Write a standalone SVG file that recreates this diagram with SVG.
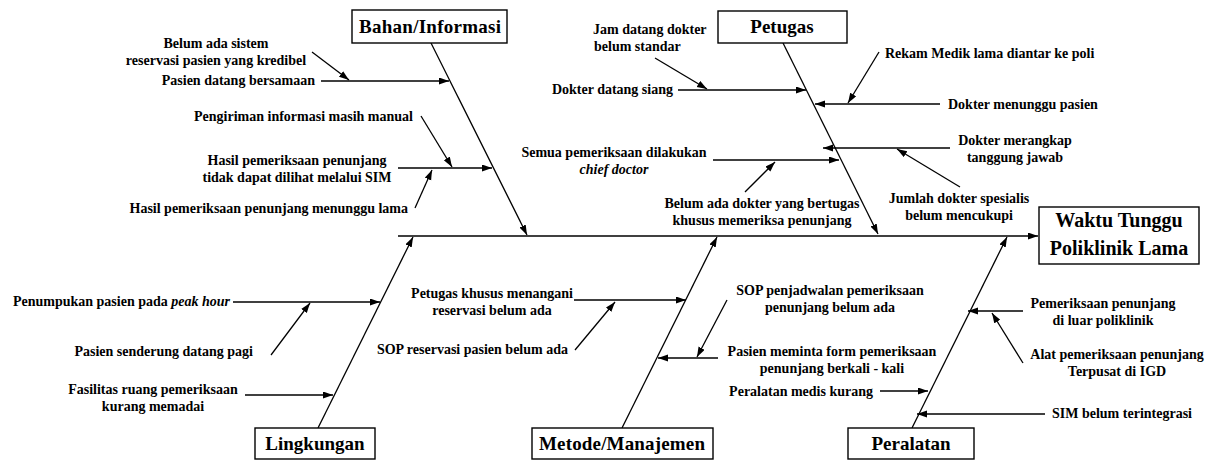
<svg xmlns="http://www.w3.org/2000/svg" width="1212" height="461" viewBox="0 0 1212 461">
  <style>
    .box { fill: #ffffff; stroke: #000000; stroke-width: 1.4; }
    .head { font-family: "Liberation Serif", "Times New Roman", serif; font-weight: bold; font-size: 19px; fill: #000; text-anchor: middle; }
    .effect { font-size: 20px; }
    .lbl { font-family: "Liberation Serif", "Times New Roman", serif; font-weight: bold; font-size: 14px; fill: #000; }
    .mid { text-anchor: middle; }
    .end { text-anchor: end; }
    .it { font-style: italic; }
    .ln { stroke: #000; stroke-width: 1.3; fill: none; marker-end: url(#arrow); }
  </style>
  <defs>
    <marker id="arrow" markerUnits="userSpaceOnUse" markerWidth="11" markerHeight="8" refX="10" refY="3.5" orient="auto">
      <path d="M0,0 L10,3.5 L0,7 z" fill="#000"/>
    </marker>
  </defs>
  <rect width="1212" height="461" fill="#ffffff"/>

  <!-- spine, bones and cause arrows -->
  <g id="connectors">
    <line class="ln" x1="398" y1="236" x2="1038" y2="236"/>
    <!-- category bones -->
    <line class="ln" x1="431" y1="43" x2="527" y2="235"/>
    <line class="ln" x1="783" y1="43" x2="878" y2="234"/>
    <line class="ln" x1="318" y1="428" x2="413" y2="237"/>
    <line class="ln" x1="622" y1="428" x2="717" y2="237"/>
    <line class="ln" x1="912" y1="428" x2="1007" y2="237"/>
    <!-- Bahan/Informasi -->
    <line class="ln" x1="321" y1="81" x2="449" y2="81"/>
    <line class="ln" x1="312" y1="52" x2="349" y2="80"/>
    <line class="ln" x1="398" y1="168" x2="492" y2="168"/>
    <line class="ln" x1="421" y1="116" x2="452" y2="167"/>
    <line class="ln" x1="415" y1="208" x2="432" y2="170"/>
    <!-- Petugas -->
    <line class="ln" x1="678" y1="90" x2="806" y2="90"/>
    <line class="ln" x1="655" y1="58" x2="707" y2="89"/>
    <line class="ln" x1="940" y1="104" x2="815" y2="104"/>
    <line class="ln" x1="879" y1="52" x2="848" y2="103"/>
    <line class="ln" x1="950" y1="148" x2="823" y2="148"/>
    <line class="ln" x1="960" y1="187" x2="897" y2="149"/>
    <line class="ln" x1="713" y1="160" x2="839" y2="160"/>
    <line class="ln" x1="745" y1="192" x2="775" y2="162"/>
    <!-- Lingkungan -->
    <line class="ln" x1="233" y1="302" x2="380" y2="302"/>
    <line class="ln" x1="271" y1="355" x2="310" y2="303"/>
    <line class="ln" x1="245" y1="395" x2="333" y2="395"/>
    <!-- Metode/Manajemen -->
    <line class="ln" x1="574" y1="300" x2="686" y2="300"/>
    <line class="ln" x1="575" y1="350" x2="615" y2="302"/>
    <line class="ln" x1="718" y1="358" x2="658" y2="358"/>
    <line class="ln" x1="727" y1="300" x2="697" y2="357"/>
    <!-- Peralatan -->
    <line class="ln" x1="1023" y1="311" x2="968" y2="311"/>
    <line class="ln" x1="1023" y1="363" x2="992" y2="313"/>
    <line class="ln" x1="880" y1="391" x2="928" y2="391"/>
    <line class="ln" x1="1045" y1="414" x2="917" y2="414"/>
  </g>

  <!-- effect -->
  <g id="effect">
    <rect class="box" x="1039" y="207" width="160" height="57"/>
    <text class="head effect" x="1119" y="227">Waktu Tunggu</text>
    <text class="head effect" x="1119" y="255">Poliklinik Lama</text>
  </g>

  <!-- category heads -->
  <g id="cat-bahan">
    <rect class="box" x="352" y="10" width="155" height="33"/>
    <text class="head" x="430" y="33" textLength="142">Bahan/Informasi</text>
  </g>
  <g id="cat-petugas">
    <rect class="box" x="718" y="11" width="129" height="32"/>
    <text class="head" x="782" y="33">Petugas</text>
  </g>
  <g id="cat-lingkungan">
    <rect class="box" x="255" y="428" width="120" height="31"/>
    <text class="head" x="315" y="450">Lingkungan</text>
  </g>
  <g id="cat-metode">
    <rect class="box" x="532" y="428" width="181" height="31"/>
    <text class="head" x="622" y="450" textLength="166">Metode/Manajemen</text>
  </g>
  <g id="cat-peralatan">
    <rect class="box" x="848" y="428" width="126" height="31"/>
    <text class="head" x="911" y="450">Peralatan</text>
  </g>

  <!-- causes: Bahan/Informasi -->
  <g id="cause-sistem-reservasi">
    <text class="lbl mid" x="216" y="48">Belum ada sistem</text>
    <text class="lbl mid" x="216" y="65">reservasi pasien yang kredibel</text>
  </g>
  <g id="cause-pasien-bersamaan">
    <text class="lbl end" x="315" y="85">Pasien datang bersamaan</text>
  </g>
  <g id="cause-pengiriman-manual">
    <text class="lbl end" x="413" y="121">Pengiriman informasi masih manual</text>
  </g>
  <g id="cause-hasil-sim">
    <text class="lbl mid" x="297" y="165">Hasil pemeriksaan penunjang</text>
    <text class="lbl mid" x="297" y="182">tidak dapat dilihat melalui SIM</text>
  </g>
  <g id="cause-hasil-lama">
    <text class="lbl end" x="408" y="213">Hasil pemeriksaan penunjang menunggu lama</text>
  </g>

  <!-- causes: Petugas -->
  <g id="cause-jam-datang">
    <text class="lbl" x="593" y="34">Jam datang dokter</text>
    <text class="lbl" x="594" y="51">belum standar</text>
  </g>
  <g id="cause-dokter-siang">
    <text class="lbl end" x="673" y="94">Dokter datang siang</text>
  </g>
  <g id="cause-rekam-medik">
    <text class="lbl" x="885" y="58">Rekam Medik lama diantar ke poli</text>
  </g>
  <g id="cause-dokter-menunggu">
    <text class="lbl" x="948" y="109">Dokter menunggu pasien</text>
  </g>
  <g id="cause-dokter-merangkap">
    <text class="lbl mid" x="1015" y="145">Dokter merangkap</text>
    <text class="lbl mid" x="1015" y="162">tanggung jawab</text>
  </g>
  <g id="cause-jumlah-dokter">
    <text class="lbl mid" x="959" y="203">Jumlah dokter spesialis</text>
    <text class="lbl mid" x="959" y="220">belum mencukupi</text>
  </g>
  <g id="cause-chief-doctor">
    <text class="lbl mid" x="614" y="157">Semua pemeriksaan dilakukan</text>
    <text class="lbl mid it" x="614" y="174">chief doctor</text>
  </g>
  <g id="cause-dokter-penunjang">
    <text class="lbl mid" x="762" y="208">Belum ada dokter yang bertugas</text>
    <text class="lbl mid" x="762" y="225">khusus memeriksa penunjang</text>
  </g>

  <!-- causes: Lingkungan -->
  <g id="cause-peak-hour">
    <text class="lbl end" x="230" y="306">Penumpukan pasien pada <tspan class="it">peak hour</tspan></text>
  </g>
  <g id="cause-datang-pagi">
    <text class="lbl end" x="253" y="356">Pasien senderung datang pagi</text>
  </g>
  <g id="cause-fasilitas">
    <text class="lbl mid" x="153" y="394">Fasilitas ruang pemeriksaan</text>
    <text class="lbl mid" x="153" y="411">kurang memadai</text>
  </g>

  <!-- causes: Metode/Manajemen -->
  <g id="cause-petugas-reservasi">
    <text class="lbl mid" x="492" y="298">Petugas khusus menangani</text>
    <text class="lbl mid" x="492" y="315">reservasi belum ada</text>
  </g>
  <g id="cause-sop-reservasi">
    <text class="lbl end" x="568" y="354">SOP reservasi pasien belum ada</text>
  </g>
  <g id="cause-sop-penjadwalan">
    <text class="lbl mid" x="830" y="295">SOP penjadwalan pemeriksaan</text>
    <text class="lbl mid" x="830" y="312">penunjang belum ada</text>
  </g>
  <g id="cause-form-berkali">
    <text class="lbl mid" x="832" y="356">Pasien meminta form pemeriksaan</text>
    <text class="lbl mid" x="832" y="373">penunjang berkali - kali</text>
  </g>

  <!-- causes: Peralatan -->
  <g id="cause-alat-kurang">
    <text class="lbl end" x="873" y="396">Peralatan medis kurang</text>
  </g>
  <g id="cause-luar-poli">
    <text class="lbl mid" x="1103" y="308">Pemeriksaan penunjang</text>
    <text class="lbl mid" x="1103" y="325">di luar poliklinik</text>
  </g>
  <g id="cause-igd">
    <text class="lbl mid" x="1117" y="359">Alat pemeriksaan penunjang</text>
    <text class="lbl mid" x="1117" y="376">Terpusat di IGD</text>
  </g>
  <g id="cause-sim">
    <text class="lbl" x="1052" y="418">SIM belum terintegrasi</text>
  </g>
</svg>
